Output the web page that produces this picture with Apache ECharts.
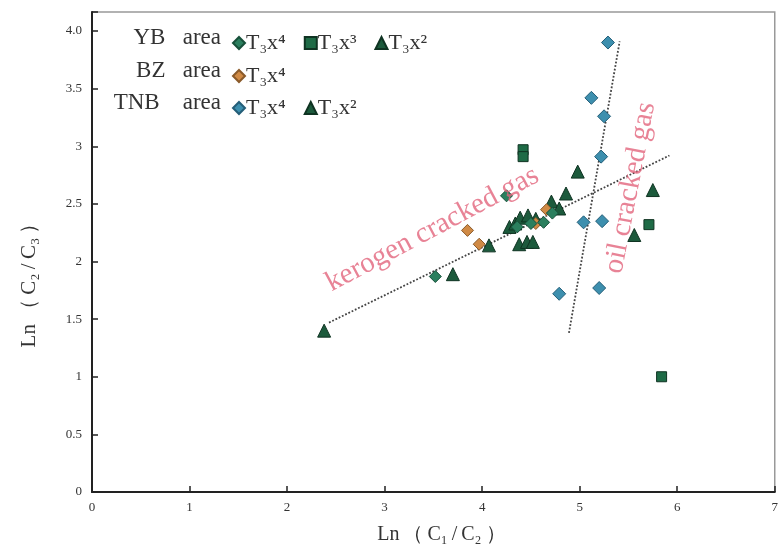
<!DOCTYPE html>
<html><head><meta charset="utf-8">
<script src="https://cdn.jsdelivr.net/npm/echarts@6/dist/echarts.min.js"></script>
<style>html,body{margin:0;padding:0;background:#fff}#c{width:781px;height:552px}</style>
</head><body><div id="c"></div>
<script>
// Data (x = Ln(C1/C2), y = Ln(C2/C3))
var ybT3x4 = [[3.52,1.87],[4.25,2.57],[4.36,2.30],[4.50,2.33],[4.63,2.34],[4.72,2.42]];
var ybT3x3 = [[4.42,2.97],[4.42,2.91],[5.71,2.32],[5.84,1.00]];
var ybT3x2 = [[2.38,1.40],[3.70,1.89],[4.07,2.14],[4.28,2.30],[4.34,2.33],[4.39,2.38],[4.38,2.15],[4.46,2.17],[4.52,2.17],[4.47,2.40],[4.55,2.37]];
var bzT3x4 = [[3.85,2.27],[3.97,2.15],[4.55,2.33],[4.66,2.45]];
var tnbT3x4 = [[5.29,3.90],[5.12,3.42],[5.25,3.26],[5.22,2.91],[5.04,2.34],[5.23,2.35],[4.79,1.72],[5.20,1.77]];
var tnbT3x2 = [[4.71,2.52],[4.79,2.46],[4.86,2.59],[4.98,2.78],[5.56,2.23],[5.75,2.62]];
var kerogenLine = [[2.43,1.47],[5.92,2.92]];
var oilLine = [[4.89,1.38],[5.41,3.91]];
var kerogenLabelAt = [[3.49,2.28]];
var oilLabelAt = [[5.52,2.64]];
var yTickLabels = {'4':'4.0'};

var serif = 'Liberation Serif';
var ts = '\u2009';
var chart = echarts.init(document.getElementById('c'));
function sc(name, data, symbol, color, border, size){
  return {name:name, type:'scatter', data:data, symbol:symbol, symbolSize:size||11,
    itemStyle:{color:color, borderColor:border, borderWidth:1, opacity:1}, z:5};
}
var legendBase = {orient:'horizontal', itemWidth:12, itemHeight:12, itemGap:18,
  textStyle:{fontFamily:serif, fontSize:22, color:'#333', padding:[0,0,0,-4]},
  formatter:function(n){return n.split('|')[1];}, selectedMode:false};
chart.setOption({
  backgroundColor:'#fff',
  animation:false,
  grid:{left:92, right:3, top:12, bottom:60, show:true, borderColor:'#999', borderWidth:1.5},
  xAxis:{type:'value', min:0, max:7, interval:1,
    name:['Ln','（','C₁','/','C₂','）'].join(ts), nameLocation:'middle', nameGap:33,
    nameTextStyle:{fontFamily:serif, fontSize:20, color:'#333', padding:[0,0,0,16]},
    axisLine:{lineStyle:{color:'#222', width:2}},
    axisTick:{inside:true, length:6, lineStyle:{color:'#222', width:1.5}},
    axisLabel:{fontFamily:serif, fontSize:13, color:'#333', margin:9},
    splitLine:{show:false}},
  yAxis:{type:'value', min:0, max:4.165, interval:0.5,
    name:['Ln','（','C₂','/','C₃','）'].join(ts), nameLocation:'middle', nameGap:52, nameRotate:90,
    nameTextStyle:{fontFamily:serif, fontSize:21, color:'#333', padding:[0,56,0,0]},
    axisLine:{lineStyle:{color:'#222', width:2}},
    axisTick:{inside:true, length:6, lineStyle:{color:'#222', width:1.5}},
    axisLabel:{fontFamily:serif, fontSize:13, color:'#333', margin:10,
      formatter:function(v){ if (Math.abs(v*2-Math.round(v*2))>1e-6) return ''; return yTickLabels[String(v)]||String(v);} },
    splitLine:{show:false}},
  legend:[
    Object.assign({}, legendBase, {left:227, top:27, data:['YB|T₃x⁴','YB|T₃x³','YB|T₃x²']}),
    Object.assign({}, legendBase, {left:227, top:60, data:['BZ|T₃x⁴']}),
    Object.assign({}, legendBase, {left:227, top:92, data:['TNB|T₃x⁴','TNB|T₃x²']})
  ],
  graphic:[
    {type:'text', x:221, y:26, style:{text:'YB   area', font:'23px "Liberation Serif"', fill:'#333', textAlign:'right'}},
    {type:'text', x:221, y:59, style:{text:'BZ   area', font:'23px "Liberation Serif"', fill:'#333', textAlign:'right'}},
    {type:'text', x:221, y:91, style:{text:'TNB    area', font:'23px "Liberation Serif"', fill:'#333', textAlign:'right'}}
  ],
  series:[
    {type:'line', data:kerogenLine, symbol:'none', lineStyle:{type:'dotted', color:'#444', width:1.8}, z:2, silent:true},
    {type:'line', data:oilLine, symbol:'none', lineStyle:{type:'dotted', color:'#444', width:1.8}, z:2, silent:true},
    sc('YB|T₃x²', ybT3x2, 'triangle', '#1c5a3c', '#0f3322', 13),
    sc('TNB|T₃x²', tnbT3x2, 'triangle', '#1c5a3c', '#0f3322', 13),
    sc('YB|T₃x³', ybT3x3, 'rect', '#1e6b46', '#0f3322', 10),
    sc('BZ|T₃x⁴', bzT3x4, 'diamond', '#d08a45', '#8a5a2a', 12),
    sc('YB|T₃x⁴', ybT3x4, 'diamond', '#2b7f5e', '#17503a', 12),
    sc('TNB|T₃x⁴', tnbT3x4, 'diamond', '#3d8fae', '#245e78', 13),
    {type:'scatter', data:kerogenLabelAt, symbolSize:0, silent:true, z:6,
      label:{show:true, position:'inside', formatter:'kerogen cracked gas', rotate:28,
        fontFamily:serif, fontSize:29, color:'#e2647c'}},
    {type:'scatter', data:oilLabelAt, symbolSize:0, silent:true, z:6,
      label:{show:true, position:'inside', formatter:'oil cracked gas', rotate:79,
        fontFamily:serif, fontSize:29, color:'#e2647c'}}
  ]
});
</script></body></html>
